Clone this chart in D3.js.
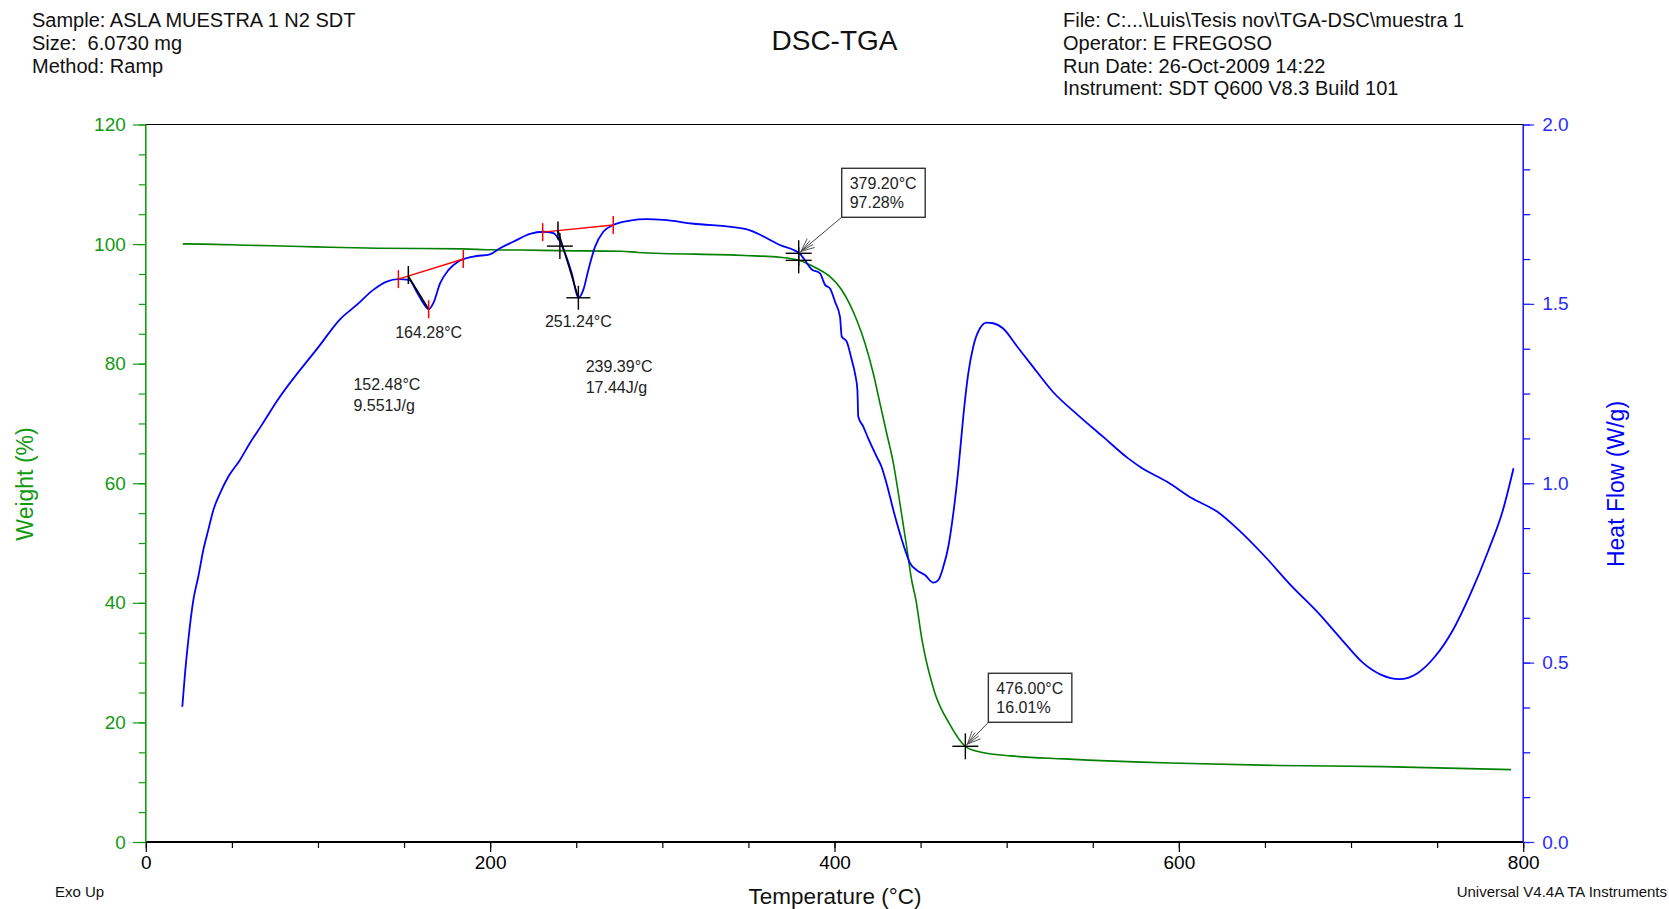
<!DOCTYPE html>
<html>
<head>
<meta charset="utf-8">
<script src="https://cdn.jsdelivr.net/npm/d3@7"></script>
<style>
  body { margin: 0; background: #fff; }
  svg { display: block; font-family: "Liberation Sans", Arial, sans-serif; }
</style>
</head>
<body>
<div id="chart"></div>
<script>
// header texts
const sampleInfo = ["Sample: ASLA MUESTRA 1 N2 SDT", "Size:  6.0730 mg", "Method: Ramp"];
const runInfo = ["File: C:...\\Luis\\Tesis nov\\TGA-DSC\\muestra 1", "Operator: E FREGOSO",
                 "Run Date: 26-Oct-2009 14:22", "Instrument: SDT Q600 V8.3 Build 101"];

// axis ticks
const tempTicks = [0, 200, 400, 600, 800];
const weightTicks = [0, 20, 40, 60, 80, 100, 120];
const heatTicks = [0.0, 0.5, 1.0, 1.5, 2.0];

// weight (%) vs temperature (°C)
const weightSeries = [[21.5,100.03],[33,100.0],[60,99.8],[90,99.6],[107,99.46],[135,99.3],[184,99.2],
  [200,99.05],[218,99.0],[240,98.9],[276,98.8],[286,98.6],[348,98.1],[368.3,97.79],[379.2,97.28],
  [389.6,95.95],[397.4,94.55],[404.2,92.32],[412.9,87.3],[417.7,83.41],[422.5,78.39],[426.4,73.37],
  [430.3,68.36],[434.2,63.34],[438,56.65],[441.9,49.39],[444.8,43.82],[447.3,40.47],[450.7,34.0],
  [458.1,25.1],[466.7,19.8],[476,16.01],[484,15.1],[502.6,14.4],[533.5,13.9],[595,13.2],[657,12.8],
  [719,12.6],[793,12.1]];

// heat flow (W/g) vs temperature (°C)
const heatSeries = [[21.2,0.377],[22.8,0.471],[24.7,0.563],[27.6,0.674],[30.5,0.74],[33.4,0.814],
  [36.3,0.87],[39.2,0.925],[43.1,0.972],[47.9,1.018],[54.7,1.065],[60.5,1.112],[67.3,1.162],[76,1.228],
  [100.8,1.383],[112.8,1.457],[122.5,1.497],[132.1,1.539],[139.9,1.562],[146.7,1.569],[152.9,1.567],
  [157.3,1.534],[161.2,1.502],[164.3,1.485],[167,1.502],[170.9,1.557],[175.7,1.594],[181.5,1.618],
  [190.2,1.632],[199.9,1.638],[205.7,1.655],[213.4,1.673],[223.1,1.695],[230.9,1.701],[236.7,1.697],
  [240.6,1.673],[243.5,1.641],[247.4,1.585],[251.2,1.517],[254.1,1.539],[257,1.594],[260.9,1.659],
  [265.7,1.701],[271.5,1.72],[281.2,1.732],[290.9,1.736],[300.6,1.734],[317.2,1.724],[348,1.709],
  [368.3,1.664],[380,1.639],[386.8,1.596],[391.6,1.585],[394.5,1.553],[397.4,1.543],[400.3,1.506],
  [403.2,1.464],[404.2,1.409],[407.1,1.395],[410,1.344],[411.9,1.306],[413.3,1.26],[413.8,1.186],
  [416.7,1.158],[419.6,1.125],[424.5,1.074],[427.3,1.046],[430.2,1.0],[434.2,0.925],[438,0.86],
  [441,0.814],[443.9,0.777],[447.7,0.758],[452.6,0.744],[457.4,0.723],[460.3,0.73],[463.2,0.767],
  [466.1,0.823],[469,0.916],[471.9,1.037],[474.8,1.186],[477.7,1.306],[480.6,1.381],[484.5,1.432],
  [488.4,1.448],[492.2,1.446],[497.8,1.432],[506.1,1.381],[514.4,1.33],[526.8,1.255],[541.4,1.19],
  [555.9,1.13],[570.4,1.07],[578.7,1.042],[593.2,1.004],[607.7,0.958],[622.2,0.921],[634.7,0.87],
  [649.2,0.8],[665.8,0.712],[680.3,0.642],[694.8,0.563],[707.3,0.498],[717.6,0.466],[728,0.454],
  [738.4,0.47],[748.8,0.517],[759.2,0.591],[769.5,0.693],[779.9,0.814],[788.2,0.925],[794.4,1.042]];

// DSC peak analysis: baseline ends, onset, peak
const baseStart = [[146.7, 1.569], [230.5, 1.700]];
const baseEnd = [[184.4, 1.625], [271.5, 1.720]];
const onsetT = [152.48, 239.39];
const enthalpy = ["9.551J/g", "17.44J/g"];
const peakPoint = [[164.28, 1.485], [251.24, 1.517]];

// TGA step marks: temperature, weight, heat flow at that point
const stepT = [379.20, 476.00];
const stepW = [97.28, 16.01];
const stepH = [1.641, null];

const width = 1669, height = 909;
const x = d3.scaleLinear().domain([0, 800]).range([145.8, 1523.2]);
const yW = d3.scaleLinear().domain([0, 120]).range([842, 124.5]);
const yH = d3.scaleLinear().domain([0, 2]).range([842, 124.5]);

const GREEN = "#008000", GREEN_TXT = "#139a13", BLUE = "#0000ff", RED = "#ff0000";

const svg = d3.select("#chart").append("svg")
    .attr("width", width)
    .attr("height", height);

// header
svg.append("g").selectAll("text").data(sampleInfo).join("text")
    .attr("x", 32).attr("y", (d, i) => 27 + i * 23)
    .attr("font-size", 20).attr("fill", "#111")
    .style("white-space", "pre").text(d => d);

svg.append("g").selectAll("text").data(runInfo).join("text")
    .attr("x", 1063).attr("y", (d, i) => 27 + i * 22.8)
    .attr("font-size", 20).attr("fill", "#111").text(d => d);

svg.append("text").attr("x", 834.5).attr("y", 50)
    .attr("text-anchor", "middle").attr("font-size", 28).attr("fill", "#111").text("DSC-TGA");

// axes
function styleAxis(g, color, fontSize) {
    g.selectAll("line").attr("stroke", color).attr("stroke-width", 1.2);
    g.selectAll("text").attr("fill", color).attr("font-size", fontSize)
        .attr("font-family", "Liberation Sans, Arial, sans-serif");
    g.select(".domain").remove();
}

const gx = svg.append("g").attr("transform", "translate(0,842)");
gx.append("g").call(d3.axisBottom(x).tickValues(d3.range(0, 801, 50)).tickSize(6).tickFormat(""))
    .call(g => styleAxis(g, "#000", 0));
gx.append("g").call(d3.axisBottom(x).tickValues(tempTicks).tickSize(10).tickPadding(4).tickFormat(d3.format("d")))
    .call(g => styleAxis(g, "#000", 19));

const gl = svg.append("g").attr("transform", "translate(145.8,0)");
gl.append("g").call(d3.axisLeft(yW).tickValues(d3.range(0, 121, 5)).tickSize(7).tickFormat(""))
    .call(g => styleAxis(g, GREEN_TXT, 0));
gl.append("g").call(d3.axisLeft(yW).tickValues(weightTicks).tickSize(13).tickPadding(7))
    .call(g => styleAxis(g, GREEN_TXT, 19));

const gr = svg.append("g").attr("transform", "translate(1523.2,0)");
gr.append("g").call(d3.axisRight(yH).tickValues(d3.range(0, 2.001, 0.125)).tickSize(7).tickFormat(""))
    .call(g => styleAxis(g, BLUE, 0));
gr.append("g").call(d3.axisRight(yH).tickValues(heatTicks).tickSize(11).tickPadding(8).tickFormat(d3.format(".1f")))
    .call(g => styleAxis(g, "#2b2bff", 19));

// frame
svg.append("line").attr("x1", x(0)).attr("x2", x(800)).attr("y1", yW(120)).attr("y2", yW(120))
    .attr("stroke", "#000").attr("stroke-width", 1.2);
svg.append("line").attr("x1", x(0)).attr("x2", x(800)).attr("y1", yW(0)).attr("y2", yW(0))
    .attr("stroke", "#000").attr("stroke-width", 2.2);
svg.append("line").attr("x1", x(0)).attr("x2", x(0)).attr("y1", yW(0)).attr("y2", yW(120))
    .attr("stroke", GREEN_TXT).attr("stroke-width", 1.6);
svg.append("line").attr("x1", x(800)).attr("x2", x(800)).attr("y1", yW(0)).attr("y2", yW(120))
    .attr("stroke", BLUE).attr("stroke-width", 1.4);

// axis titles
svg.append("text").attr("transform", "translate(33,484) rotate(-90)")
    .attr("text-anchor", "middle").attr("font-size", 23).attr("fill", GREEN_TXT).text("Weight (%)");
svg.append("text").attr("transform", "translate(1624,484) rotate(-90)")
    .attr("text-anchor", "middle").attr("font-size", 23).attr("fill", BLUE).text("Heat Flow (W/g)");
svg.append("text").attr("x", 835).attr("y", 904)
    .attr("text-anchor", "middle").attr("font-size", 22.5).attr("fill", "#111").text("Temperature (°C)");
svg.append("text").attr("x", 55).attr("y", 897).attr("font-size", 15).attr("fill", "#111").text("Exo Up");
svg.append("text").attr("x", 1667).attr("y", 897).attr("text-anchor", "end")
    .attr("font-size", 15).attr("fill", "#111").text("Universal V4.4A TA Instruments");

// curves
const lineW = d3.line().x(d => x(d[0])).y(d => yW(d[1])).curve(d3.curveMonotoneX);
const lineH = d3.line().x(d => x(d[0])).y(d => yH(d[1])).curve(d3.curveMonotoneX);

svg.append("path").datum(weightSeries).attr("d", lineW)
    .attr("fill", "none").attr("stroke", GREEN).attr("stroke-width", 1.6);
svg.append("path").datum(heatSeries).attr("d", lineH)
    .attr("fill", "none").attr("stroke", BLUE).attr("stroke-width", 1.8);

// helpers for marks
const ann = svg.append("g").attr("stroke-linecap", "butt");
function vtick(px, py, up, down, color) {
    ann.append("line").attr("x1", px).attr("x2", px).attr("y1", py - up).attr("y2", py + down)
        .attr("stroke", color).attr("stroke-width", 1.5);
}
function cross(px, py, r) {
    ann.append("line").attr("x1", px - r).attr("x2", px + r).attr("y1", py).attr("y2", py)
        .attr("stroke", "#000").attr("stroke-width", 1.4);
    ann.append("line").attr("x1", px).attr("x2", px).attr("y1", py - r).attr("y2", py + r)
        .attr("stroke", "#000").attr("stroke-width", 1.4);
}
function baseAt(i, t) {
    const k = (t - baseStart[i][0]) / (baseEnd[i][0] - baseStart[i][0]);
    return baseStart[i][1] + k * (baseEnd[i][1] - baseStart[i][1]);
}

// DSC peaks
const onsetLabelAt = [[120.6, 1.26], [255.5, 1.311]];
peakPoint.forEach((p, i) => {
    const bx1 = x(baseStart[i][0]), by1 = yH(baseStart[i][1]);
    const bx2 = x(baseEnd[i][0]), by2 = yH(baseEnd[i][1]);
    ann.append("line").attr("x1", bx1).attr("y1", by1).attr("x2", bx2).attr("y2", by2)
        .attr("stroke", RED).attr("stroke-width", 1.4);
    vtick(bx1, by1, 9, 9, RED);
    vtick(bx2, by2, 9, 9, RED);

    const ox = x(onsetT[i]), oy = yH(baseAt(i, onsetT[i]));
    const px = x(p[0]), py = yH(p[1]);
    ann.append("line").attr("x1", ox).attr("y1", oy).attr("x2", px).attr("y2", py)
        .attr("stroke", "#000").attr("stroke-width", 1.5);

    if (i === 0) {
        vtick(ox, oy, 10, 8, "#000");
        vtick(px, py, 9, 9, RED);
    } else {
        vtick(ox, oy, 9, 9, "#000");
        cross(x(240.5), yH(1.661), 13);
        cross(px, py, 12);
    }

    ann.append("text").attr("x", px).attr("y", py + 29).attr("text-anchor", "middle")
        .attr("font-size", 16).attr("fill", "#222").text(p[0].toFixed(2) + "°C");

    const lx = x(onsetLabelAt[i][0]), ly = yH(onsetLabelAt[i][1]);
    ann.append("text").attr("x", lx).attr("y", ly).attr("font-size", 16).attr("fill", "#222")
        .text(onsetT[i].toFixed(2) + "°C");
    ann.append("text").attr("x", lx).attr("y", ly + 21).attr("font-size", 16).attr("fill", "#222")
        .text(enthalpy[i]);
});

// TGA step boxes
const boxOffset = [[43, -36], [23, -24]];
stepT.forEach((t, i) => {
    const gx0 = x(t), gy0 = yW(stepW[i]);
    cross(gx0, gy0, 13);
    let tipY = gy0;
    if (stepH[i] != null) {
        tipY = yH(stepH[i]);
        cross(gx0, tipY, 13);
    }
    const bw = 83.5, bh = 49;
    const bx = gx0 + boxOffset[i][0], by = tipY + boxOffset[i][1] - bh;
    // arrow
    const ang = Math.atan2(tipY - (by + bh), gx0 - bx);
    ann.append("line").attr("x1", bx).attr("y1", by + bh).attr("x2", gx0).attr("y2", tipY)
        .attr("stroke", "#444").attr("stroke-width", 1);
    [-0.35, -0.15, 0.15, 0.35].forEach(a => {
        ann.append("line")
            .attr("x1", gx0 + 3 * Math.cos(ang + Math.PI)).attr("y1", tipY + 3 * Math.sin(ang + Math.PI))
            .attr("x2", gx0 - 17 * Math.cos(ang + a)).attr("y2", tipY - 17 * Math.sin(ang + a))
            .attr("stroke", "#555").attr("stroke-width", 1);
    });
    ann.append("rect").attr("x", bx).attr("y", by).attr("width", bw).attr("height", bh)
        .attr("fill", "#fff").attr("stroke", "#333").attr("stroke-width", 1.4);
    ann.append("text").attr("x", bx + 8).attr("y", by + 21).attr("font-size", 16).attr("fill", "#222")
        .text(t.toFixed(2) + "°C");
    ann.append("text").attr("x", bx + 8).attr("y", by + 40).attr("font-size", 16).attr("fill", "#222")
        .text(stepW[i].toFixed(2) + "%");
});
</script>
</body>
</html>
